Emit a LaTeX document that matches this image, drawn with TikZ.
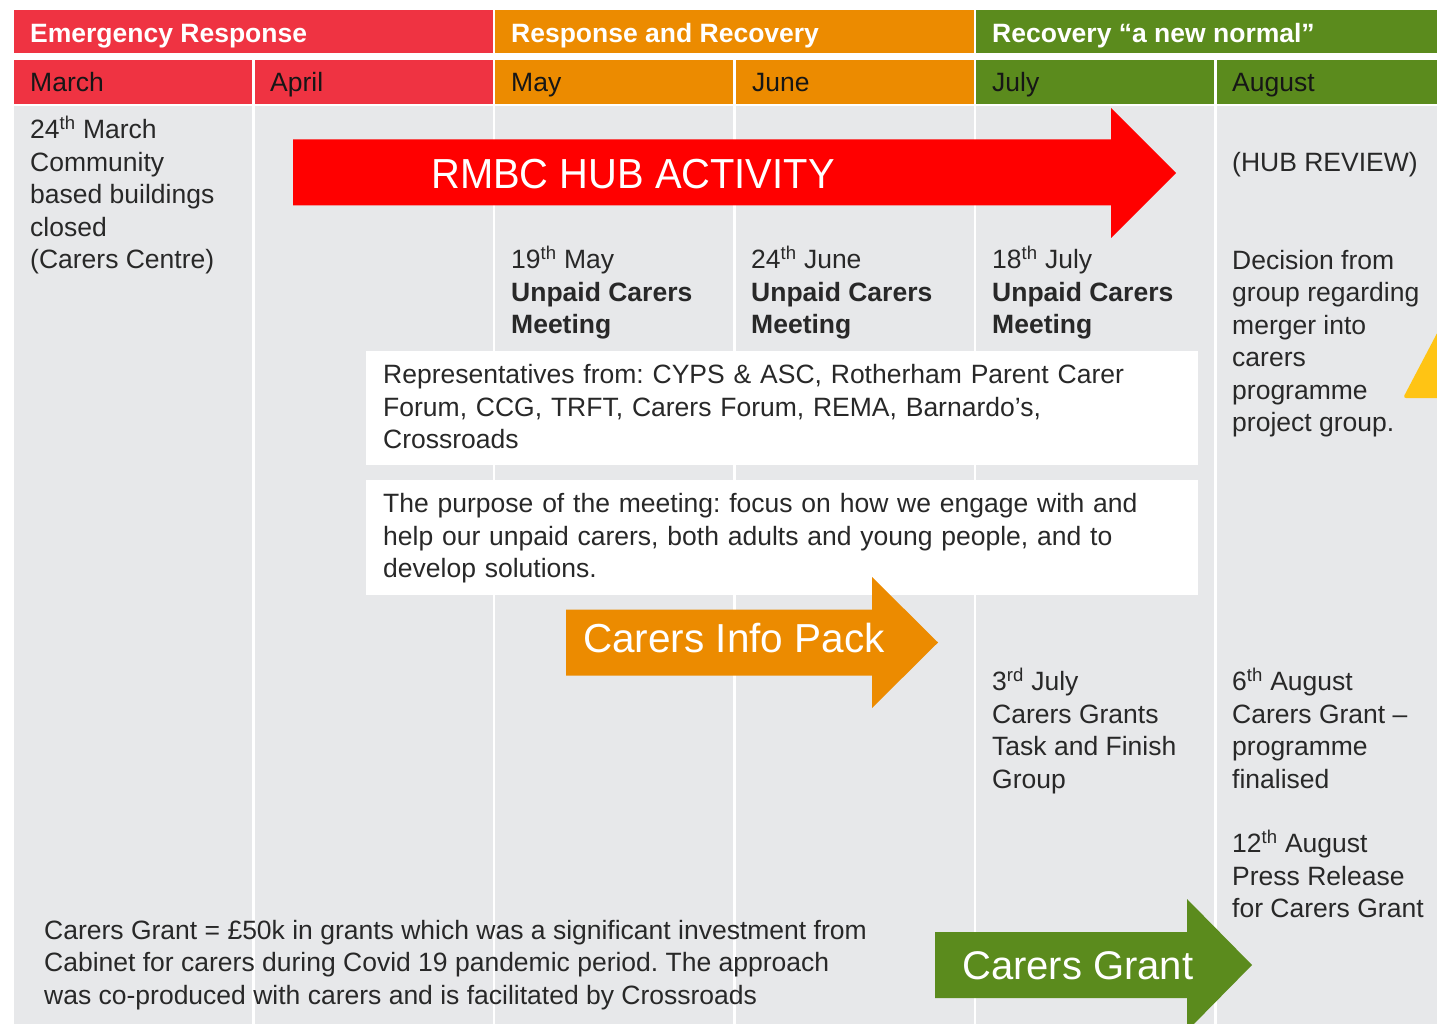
\documentclass[tikz,border=0pt]{standalone}
\usepackage{fontspec}
\setmainfont{Liberation Sans}
\newfontfamily\hubfont[FakeStretch=0.95]{Liberation Sans}
\usetikzlibrary{positioning}
\frenchspacing

\definecolor{hdrred}{RGB}{239,51,66}
\definecolor{hdrorange}{RGB}{236,139,0}
\definecolor{hdrgreen}{RGB}{91,139,29}
\definecolor{cellgray}{RGB}{231,232,234}
\definecolor{hubred}{RGB}{255,0,0}
\definecolor{warnyellow}{RGB}{255,196,20}
\definecolor{monthtxt}{RGB}{22,22,22}
\definecolor{bodytxt}{RGB}{40,40,40}

\begin{document}
\begin{tikzpicture}[x=1pt,y=-1pt,
    phase/.style={
    anchor=base west,inner sep=0pt,
    text=white,font=\bfseries\fontsize{26.5}{32.5}\selectfont},
    month/.style={
    anchor=base west,inner sep=0pt,
    text=monthtxt,font=\fontsize{26.5}{32.5}\selectfont},
    note/.style={
    % multi-line text, top at first strut
    anchor=north west,inner sep=0pt,align=left,
    text=bodytxt,font=\fontsize{26.5}{32.5}\selectfont,
    execute at begin node=\strut},
    infobox/.style={
    note,fill=white,
    inner xsep=17pt,inner ysep=7pt,text width=798pt,
    minimum width=832pt,
    execute at begin node={\rule{0pt}{25.5pt}},
    execute at end node=\strut},
    arrowlabel/.style={
    anchor=base west,inner sep=0pt,
    text=white,font=\fontsize{40.5}{49}\selectfont}]
    \fill[white] (0,0) rectangle (1437,1024);
    \useasboundingbox (0,0) rectangle (1437,1024);
    % header bands and month columns
    \foreach \i/\clr in {0/hdrred,1/hdrorange,2/hdrgreen}
        \fill[\clr] ({14+481*\i},10) rectangle +(478.5,43.5);
    \foreach \i/\clr in {0/hdrred,1/hdrred,2/hdrorange,3/hdrorange,4/hdrgreen,5/hdrgreen}{
        \fill[\clr] ({14+240.5*\i},60) rectangle +(238,44);
        \fill[cellgray] ({14+240.5*\i},106) rectangle +(238,930);
    }
    \node (phEmergency) [phase] at (30,43) {Emergency Response};
    \node (phResponse) [phase] at (511,43) {Response and Recovery};
    \node (phRecovery) [phase] at (992,43) {Recovery “a new normal”};
    \foreach \m/\x in {March/30,April/270,May/511,June/752,July/992,August/1232}
        \node (m\m) [month] at (\x,92) {\m};
    % column notes
    \node (evMarch) [note] at (30,116) {24\textsuperscript{th} March\\Community\\based buildings\\closed\\(Carers Centre)};
    \node (hubReview) [note] at (1232,149) {(HUB REVIEW)};
    \node (meetMay) [note] at (511,246) {19\textsuperscript{th} May\\\textbf{Unpaid Carers}\\\textbf{Meeting}};
    \node (meetJune) [note] at (751,246) {24\textsuperscript{th} June\\\textbf{Unpaid Carers}\\\textbf{Meeting}};
    \node (meetJuly) [note] at (992,246) {18\textsuperscript{th} July\\\textbf{Unpaid Carers}\\\textbf{Meeting}};
    \node (augDecision) [note] at (1232,250) {Decision from\\group regarding\\merger into\\carers\\programme\\project group.};
    \node (julyGrants) [note] at (992,668) {3\textsuperscript{rd} July\\Carers Grants\\Task and Finish\\Group};
    \node (augFinal) [note] at (1232,668) {6\textsuperscript{th} August\\Carers Grant –\\programme\\finalised};
    \node (augPress) [note] at (1232,830) {12\textsuperscript{th} August\\Press Release\\for Carers Grant};
    \node (grantNote) [note] at (44,920) {Carers Grant = £50k in grants which was a significant investment from\\Cabinet for carers during Covid 19 pandemic period. The approach\\was co-produced with carers and is facilitated by Crossroads};
    % white boxes
    \node (repsBox) [infobox,minimum height=114pt] at (366,351) {Representatives from: CYPS \& ASC, Rotherham Parent Carer\\Forum, CCG, TRFT, Carers Forum, REMA, Barnardo's,\\Crossroads};
    \node (purposeBox) [infobox,minimum height=115.5pt] at (366,479.5) {The purpose of the meeting: focus on how we engage with and\\help our unpaid carers, both adults and young people, and to\\develop solutions.};
    % block arrows
    \fill[hubred] (293,139.5) -- (1111,139.5) -- (1111,108) -- (1176,173)
        -- (1111,238) -- (1111,205.5) -- (293,205.5) -- cycle;
    \node (hubText) [arrowlabel,font=\hubfont\fontsize{42}{50}\selectfont] at (431,189) {RMBC HUB ACTIVITY};
    \fill[hdrorange] (566,609.5) -- (872,609.5) -- (872,577) -- (938,642.5)
        -- (872,708) -- (872,675.5) -- (566,675.5) -- cycle;
    \node (packText) [arrowlabel] at (583,652) {Carers Info Pack};
    \fill[hdrgreen] (935,932) -- (1187,932) -- (1187,899) -- (1252,965)
        -- (1187,1031) -- (1187,998) -- (935,998) -- cycle;
    \node (grantText) [arrowlabel,font=\fontsize{40}{48}\selectfont] at (962,979) {Carers Grant};
    % cut-off yellow tip at the right edge
    \fill[warnyellow,rounded corners=3pt] (1445,318) -- (1403,398) -- (1445,398) -- cycle;
\end{tikzpicture}
\end{document}
